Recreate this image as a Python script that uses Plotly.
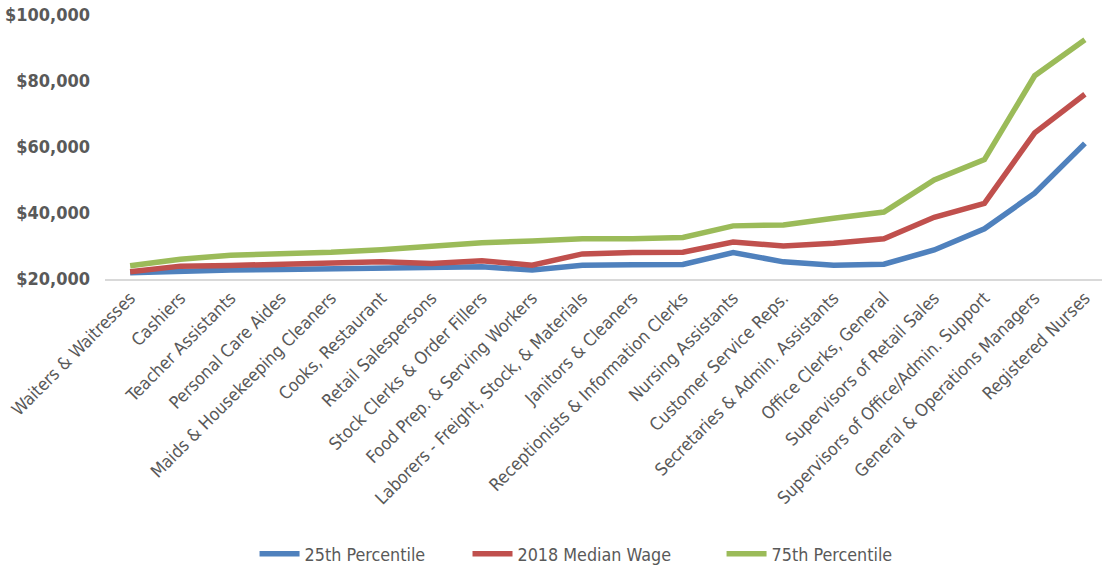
import plotly.graph_objects as go

categories = [
    "Waiters & Waitresses", "Cashiers", "Teacher Assistants", "Personal Care Aides",
    "Maids & Housekeeping Cleaners", "Cooks, Restaurant", "Retail Salespersons",
    "Stock Clerks & Order Fillers", "Food Prep. & Serving Workers",
    "Laborers - Freight, Stock, & Materials", "Janitors & Cleaners",
    "Receptionists & Information Clerks", "Nursing Assistants", "Customer Service Reps.",
    "Secretaries & Admin. Assistants", "Office Clerks, General",
    "Supervisors of Retail Sales", "Supervisors of Office/Admin. Support",
    "General & Operations Managers", "Registered Nurses",
]

p25 = [21900, 22500, 22700, 22900, 23100, 23100, 23200, 23700, 22700, 24200,
       24300, 24400, 28000, 25200, 24200, 24500, 28800, 35200, 46000, 61100]
median = [22200, 23900, 24100, 24400, 24600, 25200, 24700, 25500, 24200, 27600,
          28000, 28100, 31200, 30000, 30800, 32200, 38700, 42900, 64300, 76000]
p75 = [24000, 26000, 27200, 27600, 28100, 28900, 29900, 31000, 31500, 32200,
       32200, 32600, 36100, 36400, 38400, 40300, 50000, 56200, 81600, 92500]

series_names = ["25th Percentile", "2018 Median Wage", "75th Percentile"]
colors = ["#4F81BD", "#C0504D", "#9BBB59"]
legend_ids = ["legend", "legend2", "legend3"]
legend_x = [0.150, 0.3636, 0.6184]

FONT = "DejaVu Sans Condensed, Liberation Sans Narrow, sans-serif"

fig = go.Figure()
for name, vals, col, lg in zip(series_names, [p25, median, p75], colors, legend_ids):
    fig.add_trace(go.Scatter(
        x=categories, y=vals, name=name, mode="lines",
        line=dict(color=col, width=5.5),
        cliponaxis=False, legend=lg,
    ))

legend_common = dict(
    orientation="h", xanchor="left", y=-1.042, yanchor="middle",
    font=dict(family=FONT, size=17.8, color="#595959"),
    itemwidth=40, bgcolor="rgba(0,0,0,0)",
)

fig.update_layout(
    width=1102, height=569,
    margin=dict(l=105, r=0, t=15, b=290, autoexpand=False),
    paper_bgcolor="white", plot_bgcolor="white",
    font=dict(family=FONT, color="#595959", size=17),
    showlegend=True,
    legend=dict(x=legend_x[0], **legend_common),
    legend2=dict(x=legend_x[1], **legend_common),
    legend3=dict(x=legend_x[2], **legend_common),
    xaxis=dict(
        type="category", range=[-0.5, 19.34], tickangle=-45, automargin=False,
        showgrid=False, zeroline=False, showline=True,
        linecolor="#D9D9D9", linewidth=2, ticks="",
        tickfont=dict(family=FONT, size=17.5, color="#595959"),
    ),
    yaxis=dict(
        range=[20000, 100000], tickvals=[20000, 40000, 60000, 80000, 100000],
        tickformat="$,.0f", showgrid=False, zeroline=False, showline=False,
        ticks="", ticklabelstandoff=14, automargin=False,
        tickfont=dict(family=FONT, size=18, color="#595959", weight="bold"),
    ),
)

fig.write_html("out.html", post_script="document.body.style.margin='0';",
               config={"displayModeBar": False})
